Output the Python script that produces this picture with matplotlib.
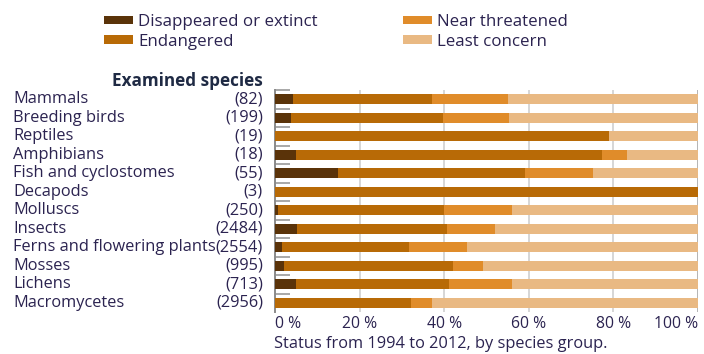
import matplotlib
matplotlib.use("Agg")
import matplotlib.pyplot as plt
import numpy as np

plt.rcParams['font.family'] = ['Open Sans', 'DejaVu Sans']

groups = ["Mammals", "Breeding birds", "Reptiles", "Amphibians", "Fish and cyclostomes",
          "Decapods", "Molluscs", "Insects", "Ferns and flowering plants", "Mosses",
          "Lichens", "Macromycetes"]
counts = ["(82)", "(199)", "(19)", "(18)", "(55)", "(3)", "(250)", "(2484)", "(2554)",
          "(995)", "(713)", "(2956)"]

series_names = ["Disappeared or extinct", "Endangered", "Near threatened", "Least concern"]
extinct    = [4.2, 3.7, 0.0, 5.0, 15.0, 0.0, 0.8, 5.1, 1.7, 2.1, 5.0, 0.0]
endangered = [32.8, 35.9, 79.0, 72.2, 44.2, 100.0, 39.2, 35.6, 30.0, 39.9, 36.1, 32.2]
near_thr   = [18.2, 15.8, 0.0, 6.1, 15.9, 0.0, 16.0, 11.3, 13.6, 7.1, 14.9, 4.8]
least      = [44.8, 44.6, 21.0, 16.7, 24.9, 0.0, 44.0, 48.0, 54.7, 50.9, 44.0, 63.0]

xticks = [0, 20, 40, 60, 80, 100]
xticklabels = ["0 %", "20 %", "40 %", "60 %", "80 %", "100 %"]
title = "Examined species"
xlabel = "Status from 1994 to 2012, by species group."

colors = ["#5a3309", "#b86a06", "#e08c2a", "#e9b983"]
text_color = "#2b2350"
FS = 11.8

W, H = 704, 354
fig = plt.figure(figsize=(W / 100, H / 100), dpi=100)
ax = fig.add_axes([275 / W, 1 - 312 / H, 423 / W, 222 / H])

y = np.arange(len(groups))
left = np.zeros(len(groups))
handles = []
for name, vals, c in zip(series_names, [extinct, endangered, near_thr, least], colors):
    b = ax.barh(y, vals, left=left, height=0.56, color=c, label=name, zorder=3, linewidth=0)
    handles.append(b)
    left = left + np.array(vals)

ax.set_xlim(0, 100)
ax.set_ylim(len(groups) - 0.5, -0.5)

for s in ["top", "right", "bottom"]:
    ax.spines[s].set_visible(False)
ax.spines["left"].set_color("#8a8a8a")
ax.spines["left"].set_linewidth(1.4)

ax.set_xticks(xticks)
ax.set_xticklabels(xticklabels, fontsize=11.3, color=text_color)
for lbl, ha in zip(ax.get_xticklabels(), ["left", "center", "center", "center", "center", "right"]):
    lbl.set_ha(ha)
ax.tick_params(axis="x", length=0, pad=3)
ax.grid(axis="x", color="#cfcfcf", linewidth=1.2, zorder=0)
ax.xaxis.get_gridlines()[0].set_visible(False)
ax.xaxis.get_gridlines()[-1].set_color("#a8a8a8")

ax.set_yticks(y)
ax.set_yticklabels([])
ax.tick_params(axis="y", which="major", length=0)
ax.set_yticks(np.arange(len(groups)) - 0.5, minor=True)
ax.tick_params(axis="y", which="minor", direction="in", length=11, width=1.2, color="#9a9a9a")

for i, (g, c) in enumerate(zip(groups, counts)):
    ax.text(-262 / 423 * 100, i, g, ha="left", va="center", fontsize=FS, color=text_color,
            clip_on=False)
    ax.text(-12 / 423 * 100, i, c, ha="right", va="center", fontsize=FS, color=text_color,
            clip_on=False)

fig.text(263 / W, 1 - 81 / H, title, ha="right", va="center", fontsize=12.3,
         fontweight="bold", color="#1f2a44")
fig.text(274 / W, 1 - 344 / H, xlabel, ha="left", va="center", fontsize=FS, color=text_color)

leg_kw = dict(loc="upper left", frameon=False, fontsize=12.2, handlelength=1.7,
              handleheight=0.4, handletextpad=0.3, labelspacing=0.22,
              borderpad=0, borderaxespad=0)
leg1 = fig.legend(handles=handles[:2], labels=series_names[:2],
                  bbox_to_anchor=(104 / W, 1 - 14 / H), **leg_kw)
leg2 = fig.legend(handles=handles[2:], labels=series_names[2:],
                  bbox_to_anchor=(403 / W, 1 - 14 / H), **leg_kw)
for leg in (leg1, leg2):
    for t in leg.get_texts():
        t.set_color(text_color)

fig.savefig("out.png", dpi=100)
